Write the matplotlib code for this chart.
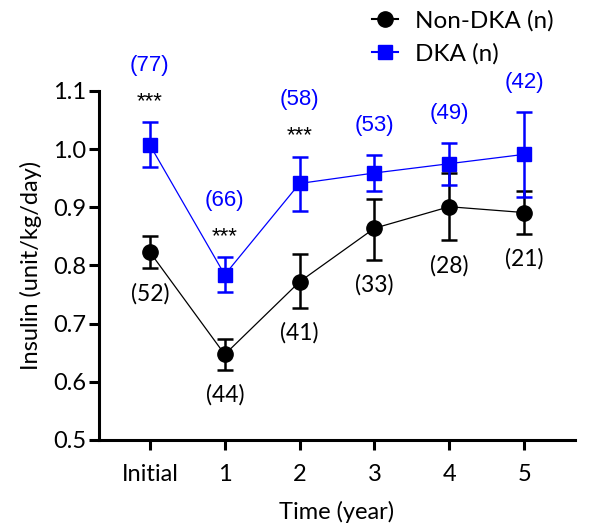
import matplotlib
matplotlib.use("Agg")
import matplotlib.pyplot as plt

time_labels = ["Initial", "1", "2", "3", "4", "5"]
x_pos = [0, 1, 2, 3, 4, 5]

non_dka_mean = [0.823, 0.647, 0.772, 0.864, 0.901, 0.891]
non_dka_upper = [0.850, 0.673, 0.819, 0.915, 0.959, 0.928]
non_dka_lower = [0.795, 0.620, 0.727, 0.809, 0.843, 0.854]
non_dka_n = [52, 44, 41, 33, 28, 21]

dka_mean = [1.007, 0.784, 0.941, 0.959, 0.975, 0.991]
dka_upper = [1.046, 0.814, 0.987, 0.990, 1.011, 1.064]
dka_lower = [0.969, 0.755, 0.894, 0.928, 0.938, 0.917]
dka_n = [77, 66, 58, 53, 49, 42]

significant = [True, True, True, False, False, False]

yticks = [0.5, 0.6, 0.7, 0.8, 0.9, 1.0, 1.1]

BLUE = "#0000FF"
axis_font = "Lato"
ann_font = "Liberation Sans"

fig = plt.figure(figsize=(5.98, 5.28), dpi=100)
ax = fig.add_axes([0.1656, 0.1667, 0.9615 - 0.1656, 0.8277 - 0.1667])

nd_err = [[m - l for m, l in zip(non_dka_mean, non_dka_lower)],
          [u - m for m, u in zip(non_dka_mean, non_dka_upper)]]
d_err = [[m - l for m, l in zip(dka_mean, dka_lower)],
         [u - m for m, u in zip(dka_mean, dka_upper)]]

ax.plot(x_pos, non_dka_mean, color="black", lw=0.9, zorder=2)
ax.errorbar(x_pos, non_dka_mean, yerr=nd_err, fmt="none", ecolor="black",
            elinewidth=1.8, capsize=6, capthick=1.8, zorder=3)
ax.plot(x_pos, non_dka_mean, "o", color="black", ms=11, zorder=4)

ax.plot(x_pos, dka_mean, color=BLUE, lw=0.9, zorder=2)
ax.errorbar(x_pos, dka_mean, yerr=d_err, fmt="none", ecolor=BLUE,
            elinewidth=1.8, capsize=6, capthick=1.8, zorder=3)
ax.plot(x_pos, dka_mean, "s", color=BLUE, ms=10.5, zorder=4)

for xi, up, n, sig in zip(x_pos, dka_upper, dka_n, significant):
    off = 41 if sig else 21
    ax.annotate(f"({n})", (xi, up), xytext=(0, off), textcoords="offset points",
                ha="center", va="center", color=BLUE, fontsize=16,
                family=ann_font, annotation_clip=False)
    if sig:
        ax.annotate("***", (xi, up), xytext=(0, 15), textcoords="offset points",
                    ha="center", va="center", color="black", fontsize=16,
                    family=ann_font, annotation_clip=False)

for xi, lo, n in zip(x_pos, non_dka_lower, non_dka_n):
    ax.annotate(f"({n})", (xi, lo), xytext=(0, -18), textcoords="offset points",
                ha="center", va="center", color="black", fontsize=16.5,
                family=axis_font, annotation_clip=False)

ax.set_xlim(-0.68, 5.68)
ax.set_ylim(0.5, 1.1)
ax.set_xticks(x_pos)
ax.set_xticklabels(time_labels)
ax.set_yticks(yticks)
ax.set_yticklabels([f"{v:.1f}" for v in yticks])

for s in ["top", "right"]:
    ax.spines[s].set_visible(False)
for s in ["left", "bottom"]:
    ax.spines[s].set_linewidth(2.2)
ax.tick_params(axis="both", width=2.2, length=7, labelsize=17)
ax.tick_params(axis="x", pad=10)
ax.tick_params(axis="y", pad=2)
for lab in ax.get_xticklabels() + ax.get_yticklabels():
    lab.set_family(axis_font)

ax.set_xlabel("Time (year)", fontsize=17, family=axis_font, labelpad=12)
ax.set_ylabel("Insulin (unit/kg/day)", fontsize=17, family=axis_font, labelpad=8)

h1, = ax.plot([], [], "-o", color="black", ms=11, lw=1.5)
h2, = ax.plot([], [], "-s", color=BLUE, ms=10.5, lw=1.5)
fig.legend([h1, h2], ["Non-DKA (n)", "DKA (n)"], loc="upper right",
           bbox_to_anchor=(0.963, 1.022), frameon=False,
           prop={"family": axis_font, "size": 17.5}, handlelength=1.1,
           handletextpad=0.7, labelspacing=0.45)

fig.savefig("out.png", dpi=100)
